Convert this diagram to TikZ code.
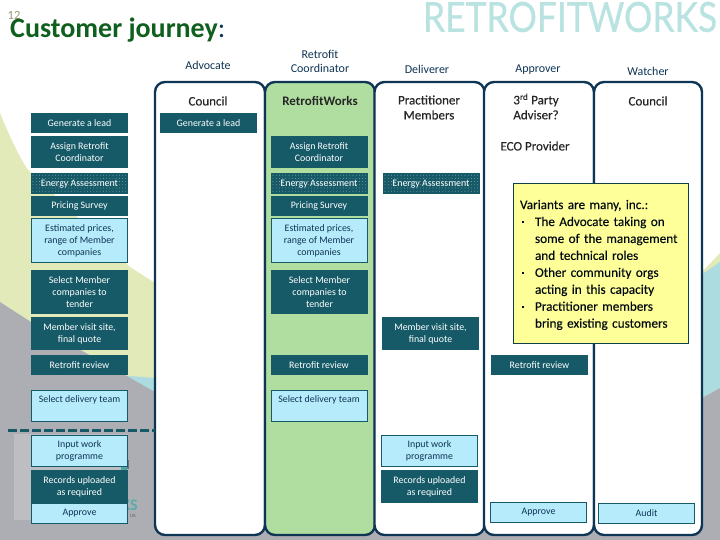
\documentclass[tikz,border=0pt]{standalone}
\usepackage{fontspec}
\setmainfont{Carlito}
\newfontfamily\hdfont[FakeBold=0.25]{Carlito}
\newfontfamily\logofont[FakeBold=0.6]{Lato}
\usetikzlibrary{patterns.meta}
\definecolor{teal1}{HTML}{165A68}
\definecolor{lblue}{HTML}{B5EBFB}
\definecolor{navy}{HTML}{0F3554}
\definecolor{pgreen}{HTML}{E3EAB9}
\definecolor{pblue}{HTML}{ACDCE0}
\definecolor{bggray}{HTML}{ADAEB3}
\definecolor{lgray}{HTML}{BDBEC2}
\definecolor{lanegreen}{HTML}{B0DDA0}
\definecolor{titlegreen}{HTML}{0F5F1E}
\definecolor{logoteal}{HTML}{B9E3E0}
\definecolor{notefill}{HTML}{FFFF99}
\definecolor{numcol}{HTML}{9A9A70}
\newcommand{\notebul}{\makebox[15pt][l]{\hspace{2pt}\rule[2.6pt]{2.4pt}{2.4pt}}}
\tikzset{
  x=1pt,y=-1pt,
  boxbase/.style={minimum width=97pt,inner sep=0pt,align=center,
    font=\fontsize{9.9}{12}\selectfont},
  dk/.style={boxbase,fill=teal1,text=white},
  lt/.style={boxbase,fill=lblue,draw=teal1,line width=0.8pt,text=navy,minimum width=96pt},
  dots/.style={dk,text depth=0pt,postaction={pattern={Dots[distance=3.2pt,radius=0.35pt,xshift=1pt]},pattern color=white!75!teal1}},
  lane/.style={draw=navy,line width=2.4pt,rounded corners=10pt,fill=white,
    minimum width=110pt,minimum height=453pt,inner sep=0pt},
  lab/.style={text=navy,align=center,font=\fontsize{12}{14}\selectfont},
  hd/.style={text=black!85,align=center,font=\hdfont\fontsize{13}{15}\selectfont},
}
\begin{document}
\begin{tikzpicture}
\useasboundingbox (0,0) rectangle (720,540);
% background
\fill[white] (0,0) rectangle (720,540);
\fill[pgreen] (0,113) .. controls (8,133) and (18,155) .. (28,170) -- (130,267) -- (155,283)
  -- (704,270) -- (720,253) -- (720,540) -- (0,540) -- cycle;
\fill[pblue] (118,375) -- (155,378) -- (704,273) -- (720,262) -- (720,540) -- (0,540) -- cycle;
\fill[bggray] (0,302) -- (31,322) -- (155,392) -- (704,397) -- (720,388) -- (720,540) -- (0,540) -- cycle;
\fill[lgray] (14,434) rectangle (128,520);
\node[text=teal!65!white,font=\bfseries\fontsize{16}{16}\selectfont,inner sep=0pt,anchor=east] (logoks) at (138,505) {KS};
\node[text=black!60,font=\fontsize{5}{5}\selectfont,inner sep=0pt] (logouk) at (133,516) {UK};
\fill[teal!70!white] (121,466) rectangle (127,470);
\fill[black!55] (127,460) rectangle (129,469);
% lanes
\node[lane] (l1) at (210,308.5) {};
\node[lane,fill=lanegreen] (l2) at (320,308.5) {};
\node[lane] (l3) at (429.5,308.5) {};
\node[lane] (l4) at (539,308.5) {};
\node[lane,minimum width=108pt] (l5) at (648,308.5) {};
% dashed rule
\coordinate (da) at (8,430);
\coordinate (db) at (155,430);
\draw[teal1,line width=3pt,dash pattern=on 9pt off 3pt] (da) -- (db);
% logo
\node[text=logoteal,inner sep=0pt,anchor=center,font=\logofont\fontsize{40}{40}\selectfont] (logo) at (570,17) {\resizebox{294pt}{30pt}{RETROFITWORKS}};
% title
\node[text=numcol,inner sep=0pt,font=\fontsize{12.5}{13}\selectfont] (num) at (14,15) {12};
\node[anchor=west,inner sep=0pt,font=\fontsize{28}{30}\selectfont] (title) at (10,30) {\textcolor{titlegreen}{\textbf{Customer journey}}\textcolor{navy}{:}};
% column labels
\node[lab] (a1) at (208,65) {Advocate};
\node[lab] (a2) at (320,61) {Retrofit\\Coordinator};
\node[lab] (a3) at (427,69) {Deliverer};
\node[lab] (a4) at (538,69.5) {Approver};
\node[lab] (a5) at (648,71) {Watcher};
\node[hd] (h1) at (208,101) {Council};
\node[hd,font=\bfseries\fontsize{13}{15}\selectfont] (h2) at (320,101) {RetrofitWorks};
\node[hd] (h3) at (429,107.5) {Practitioner\\Members};
\node[hd] (h4) at (536,106.5) {3\textsuperscript{rd} Party\\Adviser?};
\node[hd] (h4b) at (535,146) {ECO Provider};
\node[hd] (h5) at (648,101) {Council};
% left column
\node[dk,minimum height=20pt] (b1) at (79.5,123) {Generate a lead};
\node[dk,minimum height=32pt] (b2) at (79.5,152) {Assign Retrofit\\Coordinator};
\node[dots,minimum height=21pt] (b3) at (79.5,183.5) {Energy Assessment};
\node[dk,minimum height=20pt] (b4) at (79.5,206) {Pricing Survey};
\node[lt,minimum height=44pt] (b5) at (79.5,240.5) {Estimated prices,\\range of Member\\companies};
\node[dk,minimum height=44pt] (b6) at (79.5,292) {Select Member\\companies to\\tender};
\node[dk,minimum height=33pt] (b7) at (79.5,333.5) {Member visit site,\\final quote};
\node[dk,minimum height=20pt] (b8) at (79.5,365) {Retrofit review};
\node[lt,minimum height=31pt,anchor=north,text depth=12pt,inner ysep=3pt] (b9) at (79.5,389.5) {Select delivery team};
\node[lt,minimum height=31pt] (b10) at (79.5,451) {Input work\\programme};
\node[dk,minimum height=33pt] (b11) at (79.5,486.5) {Records uploaded\\as required};
\node[lt,minimum height=20pt] (b12) at (79.5,513.5) {Approve};
% advocate
\node[dk,minimum height=20pt] (c1) at (208.5,123) {Generate a lead};
% coordinator
\node[dk,minimum height=32pt] (d2) at (319,152) {Assign Retrofit\\Coordinator};
\node[dots,minimum height=21pt] (d3) at (319,183.5) {Energy Assessment};
\node[dk,minimum height=20pt] (d4) at (319,206) {Pricing Survey};
\node[lt,minimum height=44pt] (d5) at (319,240.5) {Estimated prices,\\range of Member\\companies};
\node[dk,minimum height=44pt] (d6) at (319.5,292) {Select Member\\companies to\\tender};
\node[dk,minimum height=20pt] (d8) at (319,365) {Retrofit review};
\node[lt,minimum height=31pt,anchor=north,text depth=12pt,inner ysep=3pt] (d9) at (319,389.5) {Select delivery team};
% deliverer
\node[dots,minimum height=21pt] (e3) at (431,183.5) {Energy Assessment};
\node[dk,minimum height=33pt] (e7) at (430.5,333.5) {Member visit site,\\final quote};
\node[lt,minimum height=31pt] (e10) at (429.5,451) {Input work\\programme};
\node[dk,minimum height=33pt] (e11) at (429.5,486.5) {Records uploaded\\as required};
% approver
\node[dk,minimum height=20pt] (f8) at (539.5,365) {Retrofit review};
\node[lt,minimum height=20pt] (f12) at (538.5,512.5) {Approve};
% watcher
\node[lt,minimum height=20pt] (g12) at (646.5,513.5) {Audit};
% note
\node[draw=teal1!70!black,line width=0.8pt,fill=notefill,minimum width=175pt,minimum height=160pt,
  text width=162pt,align=left,inner sep=0pt,text=black!80!navy,
  font=\hdfont\fontsize{13.2}{16.95}\selectfont] (note) at (601,263) {%
  \rule{0pt}{13pt}Variants are many, inc.:\\
  \notebul The Advocate taking on\\
  \hspace*{15pt}some of the management\\
  \hspace*{15pt}and technical roles\\
  \notebul Other community orgs\\
  \hspace*{15pt}acting in this capacity\\
  \notebul Practitioner members\\
  \hspace*{15pt}bring existing customers};
\end{tikzpicture}
\end{document}
